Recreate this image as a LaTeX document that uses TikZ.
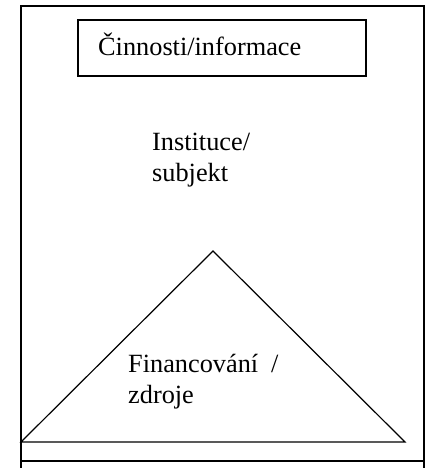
\documentclass[tikz,border=0pt]{standalone}
\usepackage{fontspec}
\setmainfont{Liberation Serif}
\begin{document}
\begin{tikzpicture}[x=1pt,y=-1pt,
  frame/.style={draw=black,line width=1.5pt},
  thinline/.style={draw=black,line width=1.2pt},
  lbl/.style={anchor=base west,inner sep=0pt,font=\fontsize{26.3}{30.5}\selectfont,align=left}]
  \useasboundingbox (0,0) rectangle (439,468);
  % outer frame
  \coordinate (tl) at (21,6);
  \coordinate (tr) at (424,6);
  \coordinate (bl) at (21,468);
  \coordinate (br) at (424,468);
  \draw[frame] (bl) -- (tl) -- (tr) -- (br);
  \coordinate (sl) at (21,461);
  \coordinate (sr) at (424,461);
  \draw[thinline] (sl) -- (sr);
  % activity box
  \node[frame,minimum width=288pt,minimum height=56pt,inner sep=0pt] (box) at (222,48) {};
  \node[lbl] (act) at (98,56) {Činnosti/informace};
  % institution label (base anchor sits on the last line)
  \node[lbl] (inst) at (152,181) {Instituce/\\subjekt};
  % funding triangle
  \coordinate (ta) at (213,251);
  \coordinate (tb) at (21,442);
  \coordinate (tc) at (405,442);
  \draw[thinline,line join=miter] (tb) -- (ta) -- (tc) -- cycle;
  \node[lbl] (fin) at (128,403) {Financování\hspace{13pt}/\\zdroje};
\end{tikzpicture}
\end{document}
